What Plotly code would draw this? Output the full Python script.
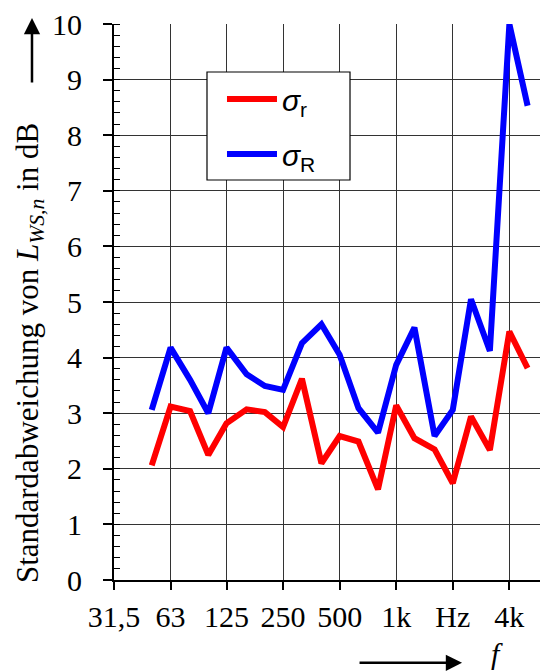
import plotly.graph_objects as go
import math

# third-octave band centre frequencies (Hz)
freqs = [50, 63, 80, 100, 125, 160, 200, 250, 315, 400, 500, 630, 800,
         1000, 1250, 1600, 2000, 2500, 3150, 4000, 5000]
sigma_r = [2.06, 3.12, 3.04, 2.25, 2.82, 3.07, 3.02, 2.75, 3.62, 2.10, 2.59,
           2.49, 1.63, 3.14, 2.55, 2.35, 1.74, 2.94, 2.34, 4.47, 3.81]
sigma_R = [3.06, 4.18, 3.60, 3.00, 4.18, 3.70, 3.49, 3.42, 4.26, 4.60, 4.05,
           3.09, 2.65, 3.87, 4.54, 2.59, 3.06, 5.05, 4.12, 10.0, 8.53]

tick_vals = [31.5, 63, 125, 250, 500, 1000, 2000, 4000]
tick_text = ["31,5", "63", "125", "250", "500", "1k", "Hz", "4k"]

SERIF = "Times New Roman, Liberation Serif, serif"
SANS = "Arial, Liberation Sans, sans-serif"

fig = go.Figure()
fig.add_trace(go.Scatter(x=freqs, y=sigma_r, mode="lines",
                         line=dict(color="#FF0000", width=6),
                         name="<i>σ</i><sub>r</sub>", legendgroup="a"))
fig.add_trace(go.Scatter(x=freqs, y=sigma_R, mode="lines",
                         line=dict(color="#0000FF", width=6),
                         name="<i>σ</i><sub>R</sub>", legendgroup="b"))

x0 = math.log10(31.5)
x1 = x0 + 7.53 * math.log10(2)

fig.update_layout(
    width=540, height=671,
    margin=dict(l=114, r=0, t=24, b=91),
    paper_bgcolor="white", plot_bgcolor="white",
    showlegend=True,
    legend=dict(x=0.2535, y=0.912, xanchor="left", yanchor="top",
                bgcolor="rgba(0,0,0,0)", borderwidth=0,
                font=dict(family=SANS, size=30, color="black"),
                tracegroupgap=13, itemwidth=50),
    xaxis=dict(type="log", range=[x0, x1],
               tickvals=tick_vals, ticktext=tick_text,
               showgrid=True, gridcolor="#333", gridwidth=1.3,
               showline=True, linecolor="black", linewidth=2.2,
               ticks="outside", ticklen=8, tickwidth=1.5, tickcolor="black",
               tickfont=dict(family=SERIF, size=30, color="black"),
               ticklabelstandoff=1, zeroline=False),
    yaxis=dict(range=[0, 10], dtick=1, tick0=0,
               showgrid=True, gridcolor="#333", gridwidth=1.3,
               showline=True, linecolor="black", linewidth=2.2,
               ticks="outside", ticklen=9, tickwidth=1.5, tickcolor="black",
               tickfont=dict(family=SERIF, size=30, color="black"),
               ticklabelstandoff=15, zeroline=False,
               minor=dict(ticks="inside", dtick=0.2, ticklen=6,
                          tickwidth=1.2, tickcolor="black", showgrid=False)),
    shapes=[dict(type="rect", xref="paper", yref="paper",
                 x0=0.2183, x1=0.554, y0=0.7194, y1=0.9137,
                 fillcolor="white", line=dict(color="black", width=1.2),
                 layer="above")],
)

annotations = [
    dict(text="Standardabweichung von <i>L</i><sub><i>WS,n</i></sub> in dB",
         xref="paper", yref="paper", x=-0.249, y=0.408,
         textangle=-90, showarrow=False,
         font=dict(family=SERIF, size=31, color="black")),
    dict(text="", xref="paper", yref="paper", x=-0.1925, y=1.0108,
         ax=0, ay=66, showarrow=True, arrowhead=2, arrowsize=1.3,
         arrowwidth=2.5, arrowcolor="black"),
    dict(text="", xref="paper", yref="paper", x=0.817, y=-0.149,
         ax=-104, ay=0, showarrow=True, arrowhead=2, arrowsize=1.3,
         arrowwidth=2.5, arrowcolor="black"),
    dict(text="<i>f</i>", xref="paper", yref="paper", x=0.899, y=-0.133,
         xanchor="center", yanchor="middle",
         showarrow=False, font=dict(family=SERIF, size=30, color="black")),
]
fig.update_layout(annotations=annotations)

fig.write_html("out.html")
